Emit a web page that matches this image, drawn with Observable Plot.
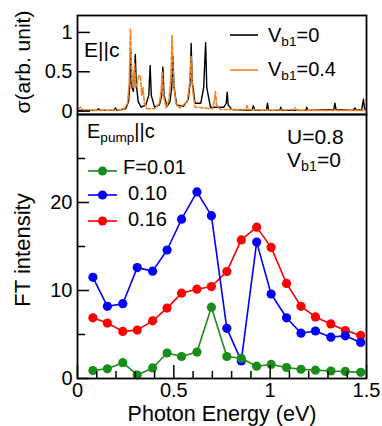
<!DOCTYPE html>
<html>
<head>
<meta charset="utf-8">
<script src="https://cdn.jsdelivr.net/npm/d3@7"></script>
<script src="https://cdn.jsdelivr.net/npm/@observablehq/plot@0.6"></script>
<style>
  body { margin: 0; background: #fff; }
  #wrap { position: relative; width: 382px; height: 426px; font-family: "Liberation Sans", Arial, sans-serif; }
  #top, #bottom { position: absolute; left: 0; }
  #top { top: 0; z-index: 2; }
  #bottom { top: 113px; z-index: 1; }
  svg text { font-family: "Liberation Sans", Arial, sans-serif; }
</style>
</head>
<body>
<div id="wrap"><div id="top"></div><div id="bottom"></div></div>
<script>
// Optical conductivity spectra (upper panel), E || c
const sigmaV0Energy = [0.00, 0.10, 0.109, 0.118, 0.19, 0.197, 0.205, 0.25, 0.265, 0.272, 0.277, 0.283, 0.29, 0.295, 0.30, 0.305, 0.315, 0.33,
  0.355, 0.37, 0.377, 0.383, 0.40, 0.425, 0.437, 0.443, 0.449, 0.465, 0.48, 0.489, 0.495, 0.501, 0.515, 0.55, 0.575, 0.585, 0.59, 0.595,
  0.61, 0.64, 0.655, 0.665, 0.671, 0.69, 0.76, 0.772, 0.777, 0.782, 0.80, 0.905, 0.913, 0.92, 0.98, 0.986, 0.992, 1.05, 1.055, 1.06,
  1.185, 1.19, 1.195, 1.33, 1.336, 1.342, 1.43, 1.44, 1.45, 1.475, 1.484, 1.49, 1.50];
const sigmaV0 = [0.01, 0.01, 0.03, 0.01, 0.01, 0.04, 0.01, 0.03, 0.12, 0.35, 0.75, 0.30, 0.25, 0.45, 0.72, 0.35, 0.12, 0.05,
  0.08, 0.20, 0.58, 0.20, 0.05, 0.08, 0.20, 0.56, 0.20, 0.06, 0.12, 0.30, 0.69, 0.30, 0.08, 0.06, 0.15, 0.38, 0.86, 0.38,
  0.10, 0.10, 0.30, 0.87, 0.30, 0.05, 0.05, 0.10, 0.24, 0.08, 0.02, 0.01, 0.07, 0.01, 0.01, 0.10, 0.01, 0.01, 0.05, 0.01,
  0.01, 0.05, 0.01, 0.02, 0.10, 0.02, 0.01, 0.04, 0.01, 0.02, 0.15, 0.03, 0.02];

const sigmaV04Energy = [0.00, 0.016, 0.03, 0.15, 0.24, 0.26, 0.268, 0.275, 0.282, 0.29, 0.296, 0.302, 0.31, 0.318, 0.327, 0.333, 0.34, 0.347,
  0.36, 0.40, 0.425, 0.434, 0.44, 0.446, 0.46, 0.475, 0.484, 0.491, 0.498, 0.51, 0.53, 0.57, 0.584, 0.59, 0.596, 0.61, 0.70, 0.712,
  0.716, 0.722, 0.74, 0.875, 0.88, 0.886, 1.00, 1.12, 1.13, 1.14, 1.30, 1.50];
const sigmaV04 = [0.02, 0.05, 0.01, 0.01, 0.02, 0.10, 0.35, 1.05, 0.40, 0.30, 0.60, 0.30, 0.35, 0.45, 0.45, 0.20, 0.30, 0.10,
  0.03, 0.03, 0.10, 0.25, 0.50, 0.20, 0.04, 0.15, 0.40, 0.96, 0.40, 0.10, 0.04, 0.12, 0.40, 0.70, 0.30, 0.05, 0.03, 0.15,
  0.25, 0.08, 0.02, 0.02, 0.07, 0.02, 0.01, 0.02, 0.04, 0.01, 0.01, 0.01];

// Fourier-transform intensity (lower panel), E_pump || c
const photonEnergy = [0.08, 0.155, 0.235, 0.31, 0.39, 0.465, 0.54, 0.62, 0.695, 0.775, 0.85, 0.93, 1.005, 1.085, 1.16, 1.235, 1.315, 1.39, 1.47];
const ftF001 = [0.9, 1.1, 1.8, 0.4, 1.2, 2.9, 2.5, 3.0, 8.1, 2.5, 2.3, 1.4, 1.6, 1.25, 1.05, 0.95, 0.85, 0.8, 0.7];
const ftF010 = [11.5, 8.2, 8.5, 12.6, 12.2, 14.6, 18.1, 21.2, 18.5, 5.7, 2.0, 15.5, 9.6, 6.9, 5.15, 5.4, 4.7, 4.85, 4.1];
const ftF016 = [6.9, 6.3, 5.35, 5.5, 6.55, 8.0, 9.7, 10.15, 10.45, 12.15, 15.75, 17.2, 14.9, 10.8, 8.2, 7.0, 6.2, 5.45, 4.9];

const topTicks = [0, 0.5, 1];
const yMajor = [0, 10, 20];
const yMinor = [5, 15, 25];
const xMajor = [0, 0.5, 1, 1.5];
const xMinor = [0.1, 0.2, 0.3, 0.4, 0.6, 0.7, 0.8, 0.9, 1.1, 1.2, 1.3, 1.4];

const colors = { f001: "#1a8c1a", f010: "#0000ff", f016: "#ff0000", v0: "#000000", v04: "#f5821f" };
const FS = 20;

const toRows = (xs, ys) => xs.map((x, i) => ({ x, y: ys[i] }));
const clear = { background: "transparent", overflow: "visible" };

// ---------- upper panel ----------
const topChart = Plot.plot({
  width: 382, height: 125,
  marginTop: 15, marginBottom: 11, marginLeft: 77, marginRight: 16,
  style: clear,
  x: { domain: [0, 1.5], axis: null },
  y: { domain: [-0.043, 1.215], axis: null },
  marks: [
    Plot.line(toRows(sigmaV0Energy, sigmaV0), { x: "x", y: "y", stroke: colors.v0, strokeWidth: 1.4, clip: true }),
    Plot.line(toRows(sigmaV04Energy, sigmaV04), { x: "x", y: "y", stroke: colors.v04, strokeWidth: 1.6, strokeDasharray: "4,2", clip: true }),
    Plot.ruleY(topTicks, { y: d => d, x1: 0, x2: 0.067, stroke: "black", strokeWidth: 1.5 }),
    Plot.text(topTicks, { x: 0, y: d => d, text: d => String(d), textAnchor: "end", dx: -5, fontSize: FS, fill: "black" }),
    Plot.frame({ stroke: "black", strokeWidth: 1.8 })
  ]
});
document.getElementById("top").appendChild(topChart);

// ---------- lower panel ----------
const series = [
  { key: "f016", values: ftF016 },
  { key: "f010", values: ftF010 },
  { key: "f001", values: ftF001 }
];
const bottomMarks = [];
for (const s of series) {
  const rows = toRows(photonEnergy, s.values);
  bottomMarks.push(Plot.line(rows, { x: "x", y: "y", stroke: colors[s.key], strokeWidth: 1.6 }));
  bottomMarks.push(Plot.dot(rows, { x: "x", y: "y", r: 4.6, fill: colors[s.key], stroke: "none" }));
}

const bottomChart = Plot.plot({
  width: 382, height: 313,
  marginTop: 1, marginBottom: 48, marginLeft: 77, marginRight: 16,
  style: clear,
  x: { domain: [0, 1.5], axis: null },
  y: { domain: [0, 30], axis: null },
  marks: [
    ...bottomMarks,
    Plot.ruleY(yMajor, { y: d => d, x1: 0, x2: 0.062, stroke: "black", strokeWidth: 1.5 }),
    Plot.ruleY(yMinor, { y: d => d, x1: 0, x2: 0.042, stroke: "black", strokeWidth: 1.5 }),
    Plot.ruleX(xMajor, { x: d => d, y1: 0, y2: 1.48, stroke: "black", strokeWidth: 1.5 }),
    Plot.ruleX(xMinor, { x: d => d, y1: 0, y2: 0.8, stroke: "black", strokeWidth: 1.5 }),
    Plot.text(yMajor, { x: 0, y: d => d, text: d => String(d), textAnchor: "end", dx: -5, fontSize: FS, fill: "black" }),
    Plot.text(xMajor, { x: d => d, y: 0, text: d => String(d), lineAnchor: "top", dy: 4, fontSize: FS, fill: "black" }),
    Plot.frame({ stroke: "black", strokeWidth: 1.8 })
  ]
});
document.getElementById("bottom").appendChild(bottomChart);

// ---------- text and legends ----------
function label(svg, x, y, parts, opts = {}) {
  const size = opts.size || FS;
  const t = d3.select(svg).append("text")
    .attr("x", x).attr("y", y)
    .attr("font-size", size)
    .attr("fill", "black")
    .attr("text-anchor", opts.anchor || "start");
  if (opts.rotate) t.attr("transform", `rotate(${opts.rotate},${x},${y})`);
  for (const p of parts) {
    const sp = t.append("tspan").text(p.t);
    if (p.sub) sp.attr("font-size", size * 0.68).attr("dy", 4);
    else if (p.after) sp.attr("dy", -4);
  }
  return t;
}
function legendLine(svg, x1, x2, y, color, dash, dot) {
  const g = d3.select(svg).append("g");
  g.append("line").attr("x1", x1).attr("x2", x2).attr("y1", y).attr("y2", y)
    .attr("stroke", color).attr("stroke-width", 1.6).attr("stroke-dasharray", dash || null);
  if (dot) g.append("circle").attr("cx", (x1 + x2) / 2).attr("cy", y).attr("r", 4.6).attr("fill", color);
}

// upper panel
label(topChart, 30, 62, [{ t: "σ(arb. unit)" }], { size: 21, anchor: "middle", rotate: -90 });
label(topChart, 84, 57, [{ t: "E||c" }], { size: 21 });
legendLine(topChart, 230, 258, 35, colors.v0);
legendLine(topChart, 230, 258, 70, colors.v04);
label(topChart, 268, 42, [{ t: "V" }, { t: "b1", sub: true }, { t: "=0", after: true }]);
label(topChart, 268, 76, [{ t: "V" }, { t: "b1", sub: true }, { t: "=0.4", after: true }]);

// lower panel (its svg starts 113px down the page)
const o = 113;
label(bottomChart, 30, 250 - o, [{ t: "FT intensity" }], { size: 22, anchor: "middle", rotate: -90 });
label(bottomChart, 222, 421 - o, [{ t: "Photon Energy (eV)" }], { size: 21.5, anchor: "middle" });
label(bottomChart, 87, 138 - o, [{ t: "E" }, { t: "pump", sub: true }, { t: "||c", after: true }]);
label(bottomChart, 287, 144 - o, [{ t: "U=0.8" }], { size: 21 });
label(bottomChart, 287, 167 - o, [{ t: "V" }, { t: "b1", sub: true }, { t: "=0", after: true }], { size: 21 });
legendLine(bottomChart, 88, 117, 171 - o, colors.f001, null, true);
legendLine(bottomChart, 88, 117, 195 - o, colors.f010, null, true);
legendLine(bottomChart, 88, 117, 221 - o, colors.f016, null, true);
label(bottomChart, 123, 173.5 - o, [{ t: "F=0.01" }]);
label(bottomChart, 128, 200 - o, [{ t: "0.10" }]);
label(bottomChart, 128, 226 - o, [{ t: "0.16" }]);
</script>
</body>
</html>
